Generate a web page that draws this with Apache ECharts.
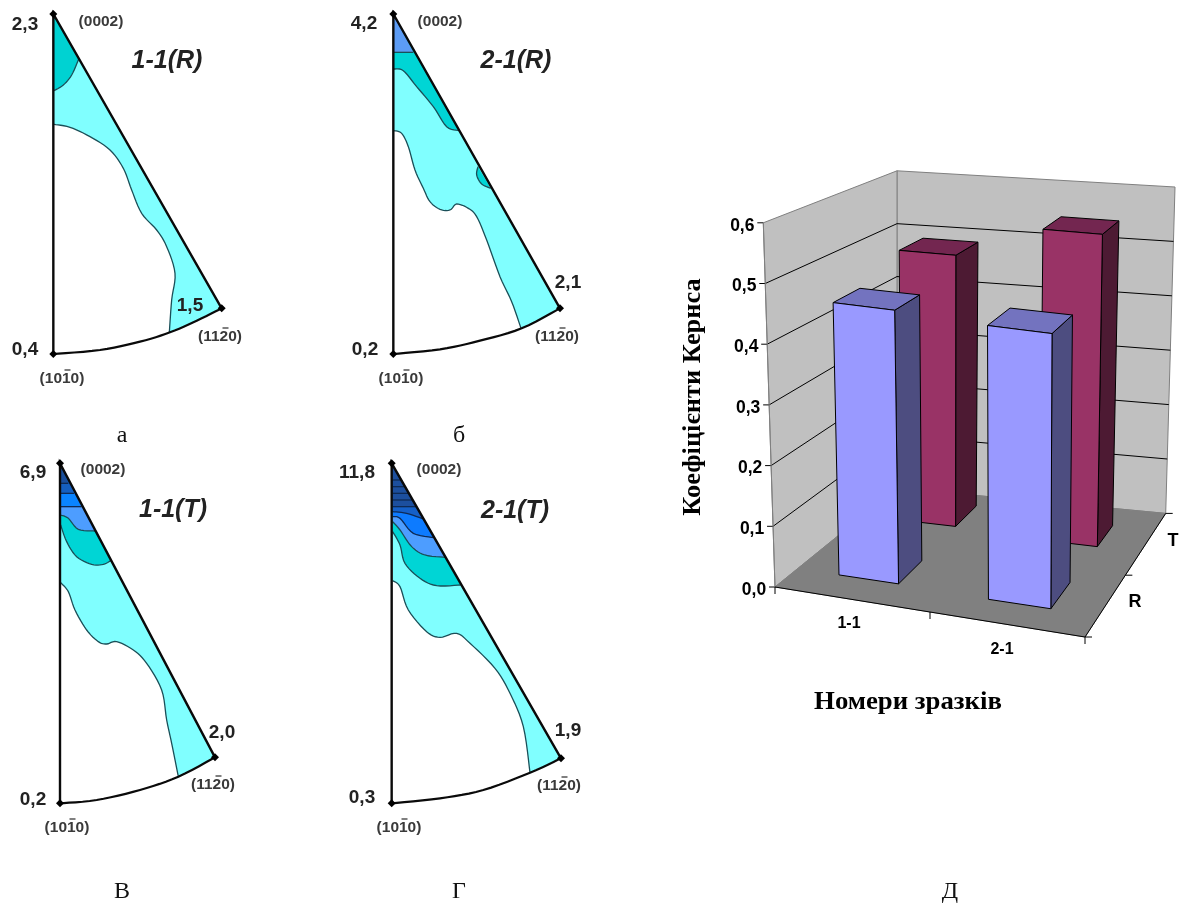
<!DOCTYPE html>
<html><head><meta charset="utf-8">
<style>html,body{margin:0;padding:0;background:#fff}#c{width:1181px;height:906px}</style>
<script src="https://cdn.jsdelivr.net/npm/echarts@6/dist/echarts.min.js"></script>
</head><body><div id="c"></div>
<script>
// ---- Bar chart data (Kearns coefficients)
const sampleLabels = ['1-1', '2-1'];
const depthLabels = ['R', 'T'];
const valueTicks = [0, 0.1, 0.2, 0.3, 0.4, 0.5, 0.6];
const valuesR = [0.458, 0.454];
const valuesT = [0.488, 0.552];

// ---- Inverse pole figure contours, in the units of each figure's own hidden axes
const outlineA = { top: [160, 42], low: [160, 1062], right: [665, 925] };
const arcA = [[160,1062],[300,1050],[420,1025],[510,997],[590,962],[665,925]];
const levelsA = [
  ['#80ffff', [[162,373],[210,382],[270,410],[330,450],[370,505],[395,570],[425,640],[470,690],[500,740],[525,820],[515,900],[508,997]]],
  ['#00d2d2', [[162,272],[190,255],[215,225],[236,178]]]
];
const outlineB = { top: [160, 42], low: [160, 1062], right: [660, 925] };
const arcB = [[160,1062],[300,1048],[420,1022],[545,985],[660,925]];
const levelsB = [
  ['#80ffff', [[162,392],[185,400],[205,440],[225,510],[250,565],[270,605],[300,628],[330,630],[350,612],[385,625],[410,650],[440,720],[480,830],[515,905],[543,985]]],
  ['#00d5d5', [[162,207],[190,212],[230,260],[280,320],[320,380],[358,392]]],
  ['#5c9cf5', [[162,157],[220,157]]]
];
const blobB = ['#00d5d5', [[414,500],[410,525],[425,552],[452,565]]];
const outlineC = { top: [180, 40], low: [180, 1060], right: [645, 922] };
const arcC = [[180,1060],[290,1050],[420,1020],[535,980],[645,922]];
const levelsC = [
  ['#80ffff', [[182,398],[205,425],[225,480],[260,540],[295,575],[320,582],[350,575],[400,600],[440,640],[485,720],[500,810],[515,880],[535,980]]],
  ['#00d5d5', [[182,225],[200,275],[230,320],[275,343],[310,343],[332,332]]],
  ['#4d9dff', [[182,195],[205,205],[235,238],[285,243]]],
  ['#0a84ff', [[182,170],[245,170]]],
  ['#1560c0', [[182,130],[222,130]]],
  ['#1a4f9c', [[182,100],[205,100]]]
];
const outlineD = { top: [155, 40], low: [155, 1060], right: [663, 925] };
const arcD = [[155,1060],[300,1045],[430,1020],[570,968],[663,925]];
const levelsD = [
  ['#80ffff', [[158,392],[180,410],[205,480],[260,545],[300,562],[350,550],[390,580],[465,655],[510,730],[550,830],[570,968]]],
  ['#00d5d5', [[158,245],[180,285],[195,340],[240,385],[290,407],[362,405]]],
  ['#4d9dff', [[158,215],[180,240],[215,290],[255,315],[316,322]]],
  ['#0d7bff', [[158,200],[180,205],[220,250],[282,263]]],
  ['#1560c8', [[158,185],[200,190],[251,207]]],
  ['#1c4f9e', [[158,170],[230,170]]],
  ['#1c4f9e', [[158,150],[218,150]]],
  ['#1c4f9e', [[158,130],[207,130]]],
  ['#1c4f9e', [[158,110],[195,110]]],
  ['#1c4f9e', [[158,90],[184,90]]]
];

// ---- Text
const sansLabels = [
  ['2,3',25,25],['0,4',25,350],['1,5',190,306],
  ['4,2',364,24],['0,2',365,350],['2,1',568,283],
  ['6,9',33,473],['0,2',33,800],['2,0',222,733],
  ['11,8',357,473],['0,3',362,798],['1,9',568,731]
];
const planeLabels = [
  ['(0002)',101,22],['(1120)',220,337],['(1010)',62,379],
  ['(0002)',440,22],['(1120)',557,337],['(1010)',401,379],
  ['(0002)',103,470],['(1120)',213,785],['(1010)',67,828],
  ['(0002)',439,470],['(1120)',559,786],['(1010)',399,828]
];
const sampleTitles = [['1-1(R)',167,61],['2-1(R)',516,61],['1-1(T)',173,510],['2-1(T)',515,511]];
const captions = [['а',122,436],['б',459,436],['В',122,892],['Г',459,892],['Д',950,892]];
const yAxisTitle = 'Коефіцієнти Кернса';
const xAxisTitle = 'Номери зразків';

// ---- Projection of the 3D box: corners on the page
const C3 = {
  a:[775,587], b:[1085,637], c:[897,488], d:[1165.7,513.4],
  e:[763.3,222.8], f:[1087.5,264], g:[897,170.8], h:[1175,187]
};
const wMax = 0.6;
function proj(u, v, val) {
  const w = val / wMax;
  const mix = (p, q, t) => [p[0]+(q[0]-p[0])*t, p[1]+(q[1]-p[1])*t];
  const bottom = mix(mix(C3.a,C3.b,u), mix(C3.c,C3.d,u), v);
  const top = mix(mix(C3.e,C3.f,u), mix(C3.g,C3.h,u), v);
  return mix(bottom, top, w);
}
const barU = { R:[[.137,.334],[.636,.842]], T:[[.135,.331],[.642,.846]] };
const barV = { R:[[.185,.40],[.17,.39]], T:[[.72,.91],[.69,.865]] };

function sm(pts) { // curve through the read points
  if (pts.length < 3) return pts.slice();
  const out = [];
  for (let i = 0; i < pts.length - 1; i++) {
    const p0 = pts[Math.max(0,i-1)], p1 = pts[i], p2 = pts[i+1], p3 = pts[Math.min(pts.length-1,i+2)];
    for (let k = 0; k < 6; k++) {
      const t = k/6, t2 = t*t, t3 = t2*t;
      out.push([0,1].map(j => 0.5*((2*p1[j]) + (p2[j]-p0[j])*t + (2*p0[j]-5*p1[j]+4*p2[j]-p3[j])*t2 + (3*p1[j]-p0[j]-3*p2[j]+p3[j])*t3)));
    }
  }
  out.push(pts[pts.length-1]);
  return out;
}
const clean = {silent:true, animation:false, clip:false};

function figureSeries(idx, outline, arc, levels, extras) {
  return Object.assign({
    type:'custom', xAxisIndex:idx, yAxisIndex:idx, data:[0], z:2,
    renderItem:(p, api) => {
      const c = q => api.coord(q);
      const kids = [];
      levels.forEach((lv, i) => {
        const line = sm(lv[1]);
        let poly;
        if (i === 0) {
          const end = lv[1][lv[1].length-1];
          const rest = sm(arc).filter(q => q[0] > end[0]);
          poly = line.concat(rest, [outline.right, outline.top]);
        } else poly = line.concat([outline.top]);
        kids.push({type:'polygon', shape:{points:poly.map(c)}, style:{fill:lv[0], stroke:'none'}});
        kids.push({type:'polyline', shape:{points:line.map(c)}, style:{fill:'none', stroke:i>=3?'#0e2a55':'#1a4f58', lineWidth:1.3}});
      });
      (extras||[]).forEach(b => {
        const line = sm(b[1]);
        kids.push({type:'polygon', shape:{points:line.map(c)}, style:{fill:b[0], stroke:'none'}});
        kids.push({type:'polyline', shape:{points:line.map(c)}, style:{fill:'none', stroke:'#1a4f58', lineWidth:1.3}});
      });
      kids.push({type:'polyline', shape:{points:[outline.low, outline.top, outline.right].map(c)}, style:{fill:'none', stroke:'#0a0a0a', lineWidth:2.4}});
      kids.push({type:'polyline', shape:{points:sm(arc).map(c)}, style:{fill:'none', stroke:'#0a0a0a', lineWidth:2.2}});
      [outline.top, outline.low, outline.right].forEach(q => {
        const o = c(q);
        kids.push({type:'polygon', shape:{points:[[o[0],o[1]-4],[o[0]+4,o[1]],[o[0],o[1]+4],[o[0]-4,o[1]]]}, style:{fill:'#000'}});
      });
      return {type:'group', children:kids};
    }
  }, clean);
}

const PX = 4; // page-unit axes
function shellSeries() {
  return Object.assign({
    type:'custom', xAxisIndex:PX, yAxisIndex:PX, data:[0], z:1,
    renderItem:(p, api) => {
      const P = (u,v,w) => api.coord(proj(u,v,w));
      const kids = [];
      const line = (a,b,col,lw) => kids.push({type:'line', shape:{x1:a[0],y1:a[1],x2:b[0],y2:b[1]}, style:{stroke:col, lineWidth:lw||1}});
      const face = (pts, fill) => kids.push({type:'polygon', shape:{points:pts}, style:{fill, stroke:'#808080', lineWidth:1}});
      face([P(0,1,0),P(1,1,0),P(1,1,wMax),P(0,1,wMax)], '#c0c0c0');
      face([P(0,0,0),P(0,1,0),P(0,1,wMax),P(0,0,wMax)], '#c0c0c0');
      face([P(0,0,0),P(1,0,0),P(1,1,0),P(0,1,0)], '#808080');
      valueTicks.forEach(t => {
        const a = P(0,0,t), b = P(0,1,t), d = P(1,1,t);
        if (t > 0 && t < wMax) { line(a,b,'#000'); line(b,d,'#000'); }
        line([a[0]-6,a[1]], a, '#000');
      });
      line(P(0,0,0), P(0,0,wMax), '#808080');
      line(P(0,0,0), P(1,0,0), '#000');
      line(P(1,0,0), P(1,1,0), '#000');
      [0,.5,1].forEach(u => { const a = P(u,0,0); line(a,[a[0],a[1]+7],'#000'); });
      [0,.5,1].forEach(v => { const a = P(1,v,0); line(a,[a[0]+7,a[1]],'#000'); });
      return {type:'group', children:kids};
    }
  }, clean);
}
function barSeries(key, values, colors, z) {
  return Object.assign({
    type:'custom', xAxisIndex:PX, yAxisIndex:PX, z, name:key,
    data: values.map((v,i) => [i, v]),
    renderItem:(p, api) => {
      const i = api.value(0), val = api.value(1);
      const [u0,u1] = barU[key][i], [v0,v1] = barV[key][i];
      const P = (u,v,w) => api.coord(proj(u,v,w));
      const st = fill => ({fill, stroke:'#000', lineWidth:1});
      return {type:'group', children:[
        {type:'polygon', shape:{points:[P(u1,v0,0),P(u1,v1,0),P(u1,v1,val),P(u1,v0,val)]}, style:st(colors[2])},
        {type:'polygon', shape:{points:[P(u0,v0,val),P(u1,v0,val),P(u1,v1,val),P(u0,v1,val)]}, style:st(colors[1])},
        {type:'polygon', shape:{points:[P(u0,v0,0),P(u1,v0,0),P(u1,v0,val),P(u0,v0,val)]}, style:st(colors[0])}
      ]};
    }
  }, clean);
}
function textSeries(items, font, fill, opts) {
  const o = opts || {};
  return Object.assign({
    type:'custom', xAxisIndex:PX, yAxisIndex:PX, z:5,
    data: items.map((t,i) => [t[1], t[2], i]),
    renderItem:(p, api) => {
      const at = api.coord([api.value(0), api.value(1)]);
      const str = items[api.value(2)][0];
      const txt = {type:'text', x:at[0], y:at[1], rotation:o.rot||0, scaleX:o.stretch||1,
        style:{text:str, x:0, y:0, align:'center', verticalAlign:'middle', font, fill}};
      if (!o.bar || str === '(0002)') return txt;
      return {type:'group', children:[txt,
        {type:'line', shape:{x1:at[0]+2.5, y1:at[1]-9, x2:at[0]+8.5, y2:at[1]-9}, style:{stroke:fill, lineWidth:1.3}}]};
    }
  }, clean);
}

const tickTexts = valueTicks.map(t => {
  const q = proj(0,0,t);
  return [t.toFixed(1).replace('.', ','), q[0]-21, q[1]+3];
});
const sans = '"Liberation Sans",Arial,sans-serif';
const serif = '"Liberation Serif","Times New Roman",serif';

const panes = [[0,0,260,450,780,1350],[340,0,260,450,780,1350],[0,450,260,400,780,1200],[340,450,260,400,780,1200],[0,0,1181,906,1181,906]];
const option = {
  backgroundColor:'#fff', animation:false,
  grid: panes.map(g => ({left:g[0], top:g[1], width:g[2], height:g[3], containLabel:false})),
  xAxis: panes.map((g,i) => ({type:'value', gridIndex:i, min:0, max:g[4], show:false})),
  yAxis: panes.map((g,i) => ({type:'value', gridIndex:i, min:0, max:g[5], inverse:true, show:false})),
  series:[
    figureSeries(0,outlineA,arcA,levelsA),
    figureSeries(1,outlineB,arcB,levelsB,[blobB]),
    figureSeries(2,outlineC,arcC,levelsC),
    figureSeries(3,outlineD,arcD,levelsD),
    shellSeries(),
    barSeries('T', valuesT, ['#993366','#732650','#4d1a33'], 2),
    barSeries('R', valuesR, ['#9999ff','#7373bf','#4d4d80'], 3),
    textSeries(sansLabels, 'bold 19px '+sans, '#222'),
    textSeries(planeLabels, 'bold 15.5px '+sans, '#3a3a3a', {bar:true}),
    textSeries(sampleTitles, 'italic bold 25px '+sans, '#222'),
    textSeries(captions, '24px '+serif, '#111'),
    textSeries(tickTexts, 'bold 17.5px '+sans, '#000'),
    textSeries([[sampleLabels[0],849,624],[sampleLabels[1],1002,650]], 'bold 16px '+sans, '#000'),
    textSeries([[depthLabels[0],1135,602],[depthLabels[1],1173,541]], 'bold 18px '+sans, '#000'),
    textSeries([[xAxisTitle,908,703]], 'bold 25px '+serif, '#000', {stretch:1.07}),
    textSeries([[yAxisTitle,694,397]], 'bold 25px '+serif, '#000', {rot:Math.PI/2, stretch:1.055})
  ]
};
const chart = echarts.init(document.getElementById('c'), null, {renderer:'canvas', width:1181, height:906});
chart.setOption(option);
</script></body></html>
